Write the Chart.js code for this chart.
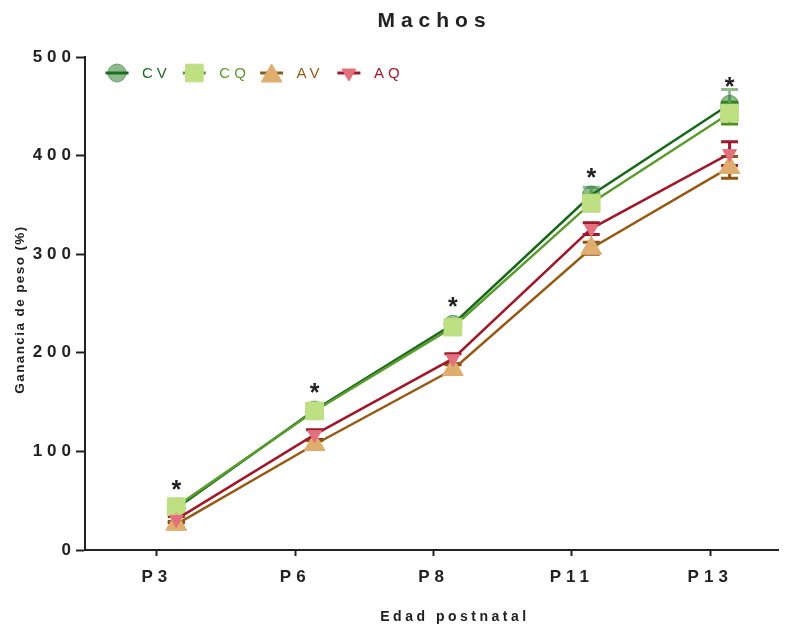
<!DOCTYPE html>
<html>
<head>
<meta charset="utf-8">
<script src="https://cdn.jsdelivr.net/npm/chart.js@4.4.1/dist/chart.umd.min.js"></script>
<style>
  body { margin: 0; background: #fff; }
</style>
</head>
<body>
<canvas id="weight-chart" width="792" height="626"></canvas>
<script>
// postnatal ages on the x axis
const ages = ['P3', 'P6', 'P8', 'P11', 'P13'];

// weight gain (%) mean and SEM per group
const cvMean = [42, 142, 229, 360, 452];
const cvErr  = [3, 3, 4, 8, 15];
const cqMean = [44, 141, 226, 352, 443];
const cqErr  = [3, 3, 3, 8, 11];
const avMean = [26, 107, 183, 306, 388];
const avErr  = [3, 4, 5, 6, 11];
const aqMean = [31, 117, 194, 326, 402];
const aqErr  = [3, 5, 5, 6, 12];

const groupNames = ['CV', 'CQ', 'AV', 'AQ'];
const signif = ['*', '*', '*', '*', '*'];
const yTicks = [0, 100, 200, 300, 400, 500];

// points sit a little to the right of each tick
const shift = 0.14;
const font = '"Liberation Sans", Arial, sans-serif';

function pts(values) {
  return values.map((v, i) => ({ x: i + shift, y: v }));
}

const series = [
  { label: groupNames[0], mean: cvMean, err: cvErr, line: '#17691a', fill: 'rgba(31,115,31,0.5)', edge: 'rgba(31,115,31,0.55)', bar: '#8fbb8f', text: '#1f6b1f', style: 'circle', r: 9, rot: 0, order: 3 },
  { label: groupNames[1], mean: cqMean, err: cqErr, line: '#5a9c2c', fill: '#bee083', edge: '#bee083', bar: '#4f8f1f', text: '#5a9c2c', style: 'rect', r: 12.5, rot: 0, order: 2 },
  { label: groupNames[2], mean: avMean, err: avErr, line: '#985a12', fill: '#dfad6d', edge: '#dfad6d', bar: '#8f5610', text: '#985a12', style: 'triangle', r: 12, rot: 0, order: 1 },
  { label: groupNames[3], mean: aqMean, err: aqErr, line: '#a0182a', fill: '#e2717d', edge: '#e2717d', bar: '#9b1b2b', text: '#a0182a', style: 'triangle', r: 8, rot: 180, order: 0 }
];

const errorBars = {
  id: 'errorBars',
  beforeDatasetsDraw(chart) {
    const ctx = chart.ctx;
    const xs = chart.scales.x, ys = chart.scales.y;
    ctx.save();
    ctx.lineWidth = 3;
    [...series].reverse().forEach(s => {
      ctx.strokeStyle = s.bar;
      s.mean.forEach((m, i) => {
        const x = xs.getPixelForValue(i + shift);
        const top = ys.getPixelForValue(m + s.err[i]);
        const bot = ys.getPixelForValue(m - s.err[i]);
        ctx.beginPath();
        ctx.moveTo(x, top); ctx.lineTo(x, bot);
        ctx.moveTo(x - 8.5, top); ctx.lineTo(x + 8.5, top);
        ctx.moveTo(x - 8.5, bot); ctx.lineTo(x + 8.5, bot);
        ctx.stroke();
      });
    });
    ctx.restore();
  }
};

function marker(ctx, s, x, y) {
  ctx.fillStyle = s.fill;
  ctx.strokeStyle = s.edge;
  ctx.lineWidth = 1;
  Chart.helpers.drawPoint(ctx, { pointStyle: s.style, radius: s.r, rotation: s.rot, borderWidth: 1 }, x, y);
}

const decorations = {
  id: 'decorations',
  beforeDraw(chart) {
    chart.ctx.letterSpacing = '5px';
  },
  afterDraw(chart) {
    const ctx = chart.ctx;
    const area = chart.chartArea;
    const xs = chart.scales.x, ys = chart.scales.y;
    ctx.save();

    // significance marks over each age
    ctx.fillStyle = '#222';
    ctx.font = 'bold 25px ' + font;
    ctx.letterSpacing = '0px';
    ctx.textAlign = 'center';
    ctx.textBaseline = 'alphabetic';
    signif.forEach((mark, i) => {
      const top = Math.max(...series.map(s => s.mean[i]));
      ctx.fillText(mark, xs.getPixelForValue(i + shift), ys.getPixelForValue(top) - 9);
    });

    // legend
    ctx.textAlign = 'left';
    ctx.textBaseline = 'middle';
    ctx.font = '15px ' + font;
    ctx.letterSpacing = '4px';
    series.forEach((s, i) => {
      const cx = area.left + 32 + i * 77.3;
      const cy = area.top + 16;
      ctx.strokeStyle = s.line;
      ctx.lineWidth = 3;
      ctx.beginPath();
      ctx.moveTo(cx - 11.5, cy); ctx.lineTo(cx + 11.5, cy);
      ctx.stroke();
      marker(ctx, s, cx, s.style === 'triangle' && !s.rot ? cy + 3 : cy);
      ctx.fillStyle = s.text;
      ctx.fillText(s.label, cx + 25, cy + 1);
    });

    // chart title
    ctx.fillStyle = '#222';
    ctx.textAlign = 'center';
    ctx.font = 'bold 21px ' + font;
    ctx.letterSpacing = '6px';
    ctx.fillText('Machos', (area.left + area.right) / 2 + 3, 21);

    // x axis title, centred on the middle age
    ctx.font = 'bold 14px ' + font;
    ctx.letterSpacing = '3.5px';
    ctx.fillText('Edad postnatal', xs.getPixelForValue(2 + shift) + 2, 617);

    // y axis title
    ctx.translate(20, (area.top + area.bottom) / 2 + 6);
    ctx.rotate(-Math.PI / 2);
    ctx.font = 'bold 13.5px ' + font;
    ctx.letterSpacing = '1.4px';
    ctx.fillText('Ganancia de peso (%)', 0, 0);
    ctx.restore();
  }
};

new Chart(document.getElementById('weight-chart'), {
  type: 'line',
  data: {
    datasets: series.map(s => ({
      label: s.label,
      data: pts(s.mean),
      order: s.order,
      borderColor: s.line,
      borderWidth: 2.5,
      tension: 0,
      pointStyle: s.style,
      pointRadius: s.r,
      pointRotation: s.rot,
      pointBackgroundColor: s.fill,
      pointBorderColor: s.edge,
      pointBorderWidth: 1,
      pointHoverRadius: s.r
    }))
  },
  options: {
    responsive: false,
    animation: false,
    devicePixelRatio: 1,
    layout: { padding: { top: 57, right: 14, left: 0, bottom: 0 } },
    plugins: {
      legend: { display: false },
      title: { display: false },
      tooltip: { enabled: false }
    },
    scales: {
      x: {
        type: 'linear',
        min: -0.52,
        max: 4.49,
        afterBuildTicks(scale) {
          scale.ticks = ages.map((a, i) => ({ value: i }));
        },
        afterFit(scale) { scale.height = 76; },
        border: { display: true, color: '#222', width: 2 },
        grid: { drawOnChartArea: false, drawTicks: true, tickLength: 6, tickColor: '#222', tickWidth: 2 },
        ticks: {
          padding: 11,
          color: '#222',
          font: { family: font, size: 17, weight: 'bold' },
          maxRotation: 0,
          callback: v => ages[v]
        }
      },
      y: {
        min: 0,
        max: 500,
        afterBuildTicks(scale) {
          scale.ticks = yTicks.map(v => ({ value: v }));
        },
        afterFit(scale) { scale.width = 85; },
        border: { display: true, color: '#222', width: 2 },
        grid: { drawOnChartArea: false, drawTicks: true, tickLength: 9, tickColor: '#222', tickWidth: 2 },
        ticks: {
          padding: 0,
          color: '#222',
          font: { family: font, size: 17, weight: 'bold' }
        }
      }
    }
  },
  plugins: [errorBars, decorations]
});
</script>
</body>
</html>
